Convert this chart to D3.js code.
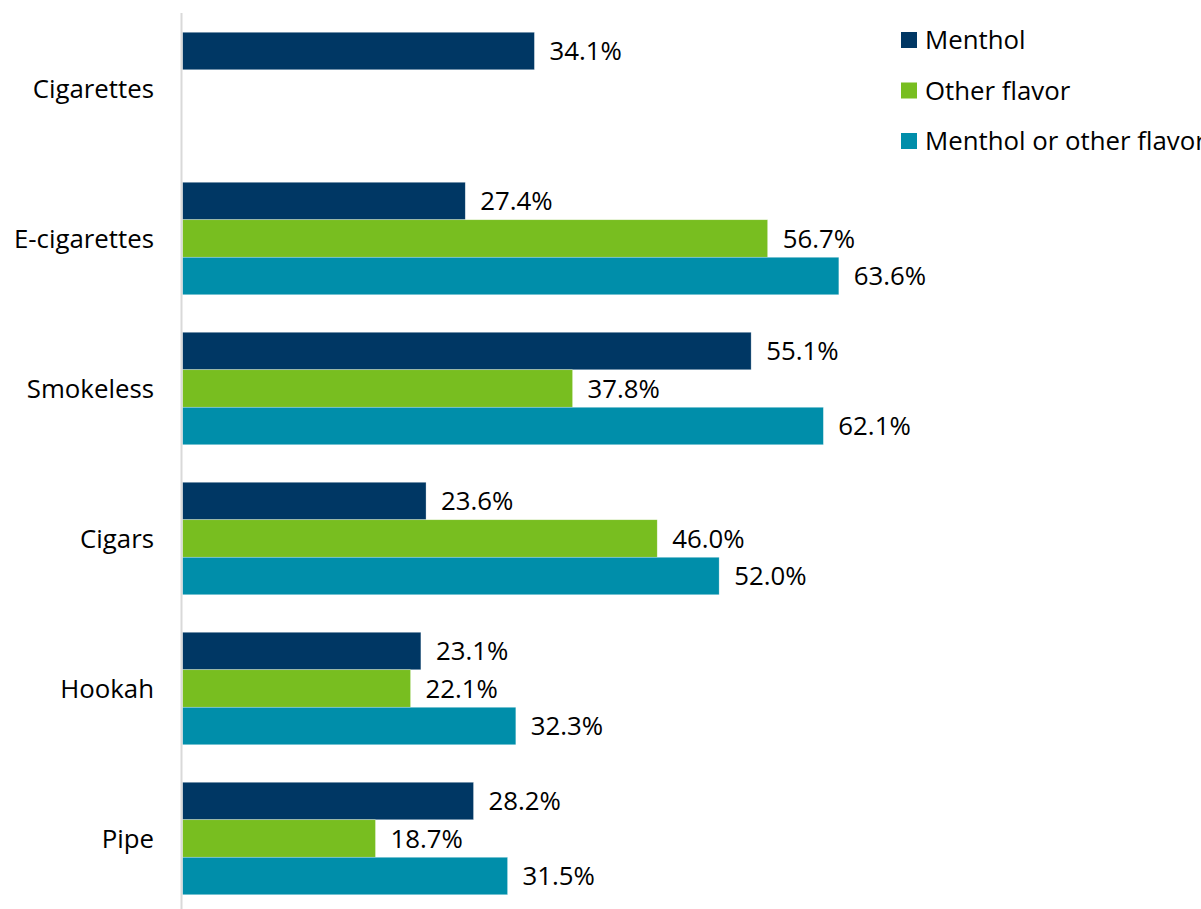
<!DOCTYPE html>
<html><head><meta charset="utf-8">
<script src="https://cdn.jsdelivr.net/npm/d3@7"></script>
<style>body{margin:0;background:#fff;overflow:hidden}svg{display:block}text{font-family:"Open Sans",sans-serif;fill:#000}</style>
</head><body>
<svg id="c" width="1201" height="909"></svg>
<script>
const categories = ["Cigarettes","E-cigarettes","Smokeless","Cigars","Hookah","Pipe"];
const seriesNames = ["Menthol","Other flavor","Menthol or other flavor"];
const menthol = [34.1, 27.4, 55.1, 23.6, 23.1, 28.2];
const otherFlavor = [null, 56.7, 37.8, 46.0, 22.1, 18.7];
const anyFlavor = [null, 63.6, 62.1, 52.0, 32.3, 31.5];
const colors = ["#003764","#78BE20","#008EAA"];

const seriesValues = [menthol, otherFlavor, anyFlavor];
const FS = 25.8;
const svg = d3.select("#c");
const x0 = 182.5;
const x = d3.scaleLinear().domain([0, 100]).range([x0, x0 + 1032]);
const y = d3.scaleBand().domain(categories).range([13.5, 913.5]).paddingInner(0.25).paddingOuter(0.125);
const ys = d3.scaleBand().domain(seriesNames).range([0, y.bandwidth()]);

const g = svg.append("g");
categories.forEach((c, i) => {
  seriesNames.forEach((s, j) => {
    const v = seriesValues[j][i];
    if (v == null) return;
    const yy = y(c) + ys(s);
    g.append("rect").attr("x", x(0)).attr("y", yy).attr("width", x(v) - x(0)).attr("height", ys.bandwidth())
      .attr("fill", colors[j]).attr("stroke", "#ffffff").attr("stroke-width", 0.6).attr("stroke-opacity", 0.5);
    g.append("text").attr("x", x(v) + 15).attr("y", yy + ys.bandwidth() / 2).attr("dy", "0.36em")
      .attr("font-size", FS).text(v.toFixed(1) + "%");
  });
});

// axis line
svg.append("line").attr("x1", 181.5).attr("x2", 181.5).attr("y1", 13).attr("y2", 909)
  .attr("stroke", "#d9d9d9").attr("stroke-width", 2);

// category labels
const yAxis = d3.axisLeft(y).tickSize(0).tickPadding(0);
const ax = svg.append("g").attr("transform", "translate(154,0)").call(yAxis);
ax.select(".domain").remove();
ax.selectAll("text").attr("font-size", FS).attr("font-family", '"Open Sans",sans-serif').attr("fill", "#000").attr("dy", "0.36em");

// legend
const lg = svg.append("g");
seriesNames.forEach((s, j) => {
  const ly = 40 + j * 50.5;
  lg.append("rect").attr("x", 901).attr("y", ly - 8).attr("width", 16).attr("height", 16).attr("fill", colors[j]);
  lg.append("text").attr("x", 925).attr("y", ly).attr("dy", "0.36em").attr("font-size", FS).text(s);
});
</script>
</body></html>
